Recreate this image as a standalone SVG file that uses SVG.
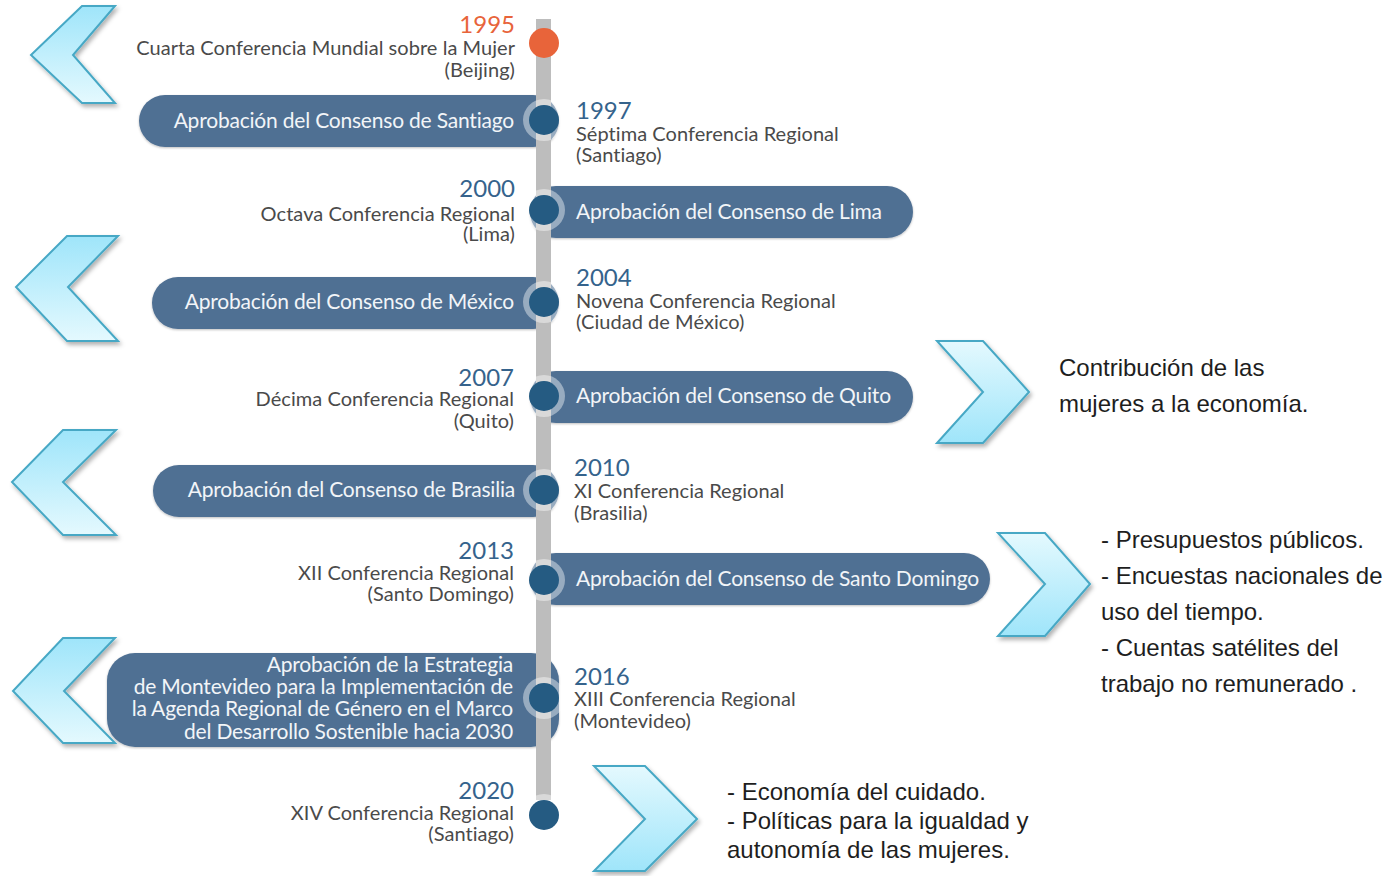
<svg xmlns="http://www.w3.org/2000/svg" width="1397" height="876" viewBox="0 0 1397 876">
<defs>
<linearGradient id="gL" x1="0" y1="0" x2="0" y2="1"><stop offset="0" stop-color="#9fe5fa"/><stop offset="1" stop-color="#e4f9fe"/></linearGradient>
<linearGradient id="gR" x1="0" y1="0" x2="0" y2="1"><stop offset="0" stop-color="#e4f9fe"/><stop offset="1" stop-color="#9fe5fa"/></linearGradient>
<filter id="sh" x="-20%" y="-20%" width="150%" height="150%"><feDropShadow dx="2" dy="3" stdDeviation="2" flood-color="#000" flood-opacity="0.3"/></filter>
<filter id="ps" x="-5%" y="-20%" width="110%" height="150%"><feDropShadow dx="0" dy="1" stdDeviation="1" flood-color="#000" flood-opacity="0.25"/></filter>
<style>
.chL{fill:url(#gL);stroke:#46a8c5;stroke-width:2;filter:url(#sh)}
.chR{fill:url(#gR);stroke:#46a8c5;stroke-width:2;filter:url(#sh)}
.pill{fill:#4f7093;filter:url(#ps)}
.pt{font-family:Lato,"Open Sans",sans-serif;font-size:21px;fill:#f2f5f8;letter-spacing:-0.2px}
.yr{font-family:Lato,"Open Sans",sans-serif;font-size:24px;fill:#35638c}
.yo{fill:#e8643a}
.ds{font-family:Lato,"Open Sans",sans-serif;font-size:20px;fill:#4a4a4a;letter-spacing:0.05px}
.r{text-anchor:end}
.bar{fill:#bdbdbd}
.halo{fill:#fff;fill-opacity:0.42}
.dot{fill:#255b82}
.nt{font-family:"Liberation Sans",Arial,sans-serif;font-size:24px;fill:#1e1e1e}
</style>
</defs>
<rect width="1397" height="876" fill="#fff"/>

<g id="chevrons">
<polygon class="chL" points="82,6 115,6 73,55 115,103 82,103 31,55"/>
<polygon class="chL" points="67,236 118,236 68,287 118,341 67,341 16,287"/>
<polygon class="chR" points="937,341 983,341 1029,392 983,443 937,443 983,392"/>
<polygon class="chL" points="63,430 116,430 63,482 116,535 63,535 12,482"/>
<polygon class="chR" points="998,533 1045,533 1090,584 1045,636 998,636 1045,584"/>
<polygon class="chL" points="63,638 115,638 64,691 115,743 63,743 13,691"/>
<polygon class="chR" points="594,766 645,766 697,819 645,871 594,871 645,819"/>
</g>

<g id="pills">
<rect class="pill" x="139" y="95" width="420" height="52" rx="26"/>
<rect class="pill" x="530" y="186" width="383" height="52" rx="26"/>
<rect class="pill" x="152" y="277" width="407" height="52" rx="26"/>
<rect class="pill" x="530" y="371" width="383" height="52" rx="26"/>
<rect class="pill" x="153" y="465" width="406" height="52" rx="26"/>
<rect class="pill" x="530" y="553" width="460" height="52" rx="26"/>
<rect class="pill" x="107" y="653" width="452" height="94" rx="28"/>
</g>

<g id="connectors">
<rect class="bar" x="536" y="19" width="15" height="781"/>
</g>

<g id="dots">
<circle cx="544" cy="43" r="15" fill="#e8643a"/>
<circle class="halo" cx="544" cy="120" r="21"/><circle class="dot" cx="544" cy="120" r="15"/>
<circle class="halo" cx="544" cy="210" r="21"/><circle class="dot" cx="544" cy="210" r="15"/>
<circle class="halo" cx="544" cy="302" r="21"/><circle class="dot" cx="544" cy="302" r="15"/>
<circle class="halo" cx="544" cy="396" r="21"/><circle class="dot" cx="544" cy="396" r="15"/>
<circle class="halo" cx="544" cy="490" r="21"/><circle class="dot" cx="544" cy="490" r="15"/>
<circle class="halo" cx="544" cy="580" r="21"/><circle class="dot" cx="544" cy="580" r="15"/>
<circle class="halo" cx="544" cy="698" r="21"/><circle class="dot" cx="544" cy="698" r="15"/>
<circle class="halo" cx="544" cy="815" r="21"/><circle class="dot" cx="544" cy="815" r="15"/>
</g>

<g id="pill-texts">
<text class="pt r" x="514" y="128">Aprobación del Consenso de Santiago</text>
<text class="pt" x="576" y="219">Aprobación del Consenso de Lima</text>
<text class="pt r" x="514" y="309">Aprobación del Consenso de México</text>
<text class="pt" x="576" y="403">Aprobación del Consenso de Quito</text>
<text class="pt r" x="515" y="497">Aprobación del Consenso de Brasilia</text>
<text class="pt" x="576" y="586">Aprobación del Consenso de Santo Domingo</text>
<text class="pt r" x="513" y="672">Aprobación de la Estrategia</text>
<text class="pt r" x="513" y="694">de Montevideo para la Implementación de</text>
<text class="pt r" x="513" y="716">la Agenda Regional de Género en el Marco</text>
<text class="pt r" x="513" y="739">del Desarrollo Sostenible hacia 2030</text>
</g>

<g id="events-left">
<text class="yr yo r" x="515" y="33">1995</text>
<text class="ds r" x="515" y="55">Cuarta Conferencia Mundial sobre la Mujer</text>
<text class="ds r" x="515" y="77">(Beijing)</text>
<text class="yr r" x="515" y="197">2000</text>
<text class="ds r" x="515" y="221">Octava Conferencia Regional</text>
<text class="ds r" x="515" y="241">(Lima)</text>
<text class="yr r" x="514" y="386">2007</text>
<text class="ds r" x="514" y="406">Décima Conferencia Regional</text>
<text class="ds r" x="514" y="428">(Quito)</text>
<text class="yr r" x="514" y="559">2013</text>
<text class="ds r" x="514" y="580">XII Conferencia Regional</text>
<text class="ds r" x="514" y="601">(Santo Domingo)</text>
<text class="yr r" x="514" y="799">2020</text>
<text class="ds r" x="514" y="820">XIV Conferencia Regional</text>
<text class="ds r" x="514" y="841">(Santiago)</text>
</g>

<g id="events-right">
<text class="yr" x="576" y="119">1997</text>
<text class="ds" x="576" y="141">Séptima Conferencia Regional</text>
<text class="ds" x="576" y="162">(Santiago)</text>
<text class="yr" x="576" y="286">2004</text>
<text class="ds" x="576" y="308">Novena Conferencia Regional</text>
<text class="ds" x="576" y="329">(Ciudad de México)</text>
<text class="yr" x="574" y="476">2010</text>
<text class="ds" x="574" y="498">XI Conferencia Regional</text>
<text class="ds" x="574" y="520">(Brasilia)</text>
<text class="yr" x="574" y="685">2016</text>
<text class="ds" x="574" y="706">XIII Conferencia Regional</text>
<text class="ds" x="574" y="728">(Montevideo)</text>
</g>

<g id="notes">
<text class="nt" x="1059" y="376">Contribución de las</text>
<text class="nt" x="1059" y="412">mujeres a la economía.</text>
<text class="nt" x="1101" y="548">- Presupuestos públicos.</text>
<text class="nt" x="1101" y="584">- Encuestas nacionales de</text>
<text class="nt" x="1101" y="620">uso del tiempo.</text>
<text class="nt" x="1101" y="656">- Cuentas satélites del</text>
<text class="nt" x="1101" y="692">trabajo no remunerado .</text>
<text class="nt" x="727" y="800">- Economía del cuidado.</text>
<text class="nt" x="727" y="829">- Políticas para la igualdad y</text>
<text class="nt" x="727" y="858">autonomía de las mujeres.</text>
</g>
</svg>
